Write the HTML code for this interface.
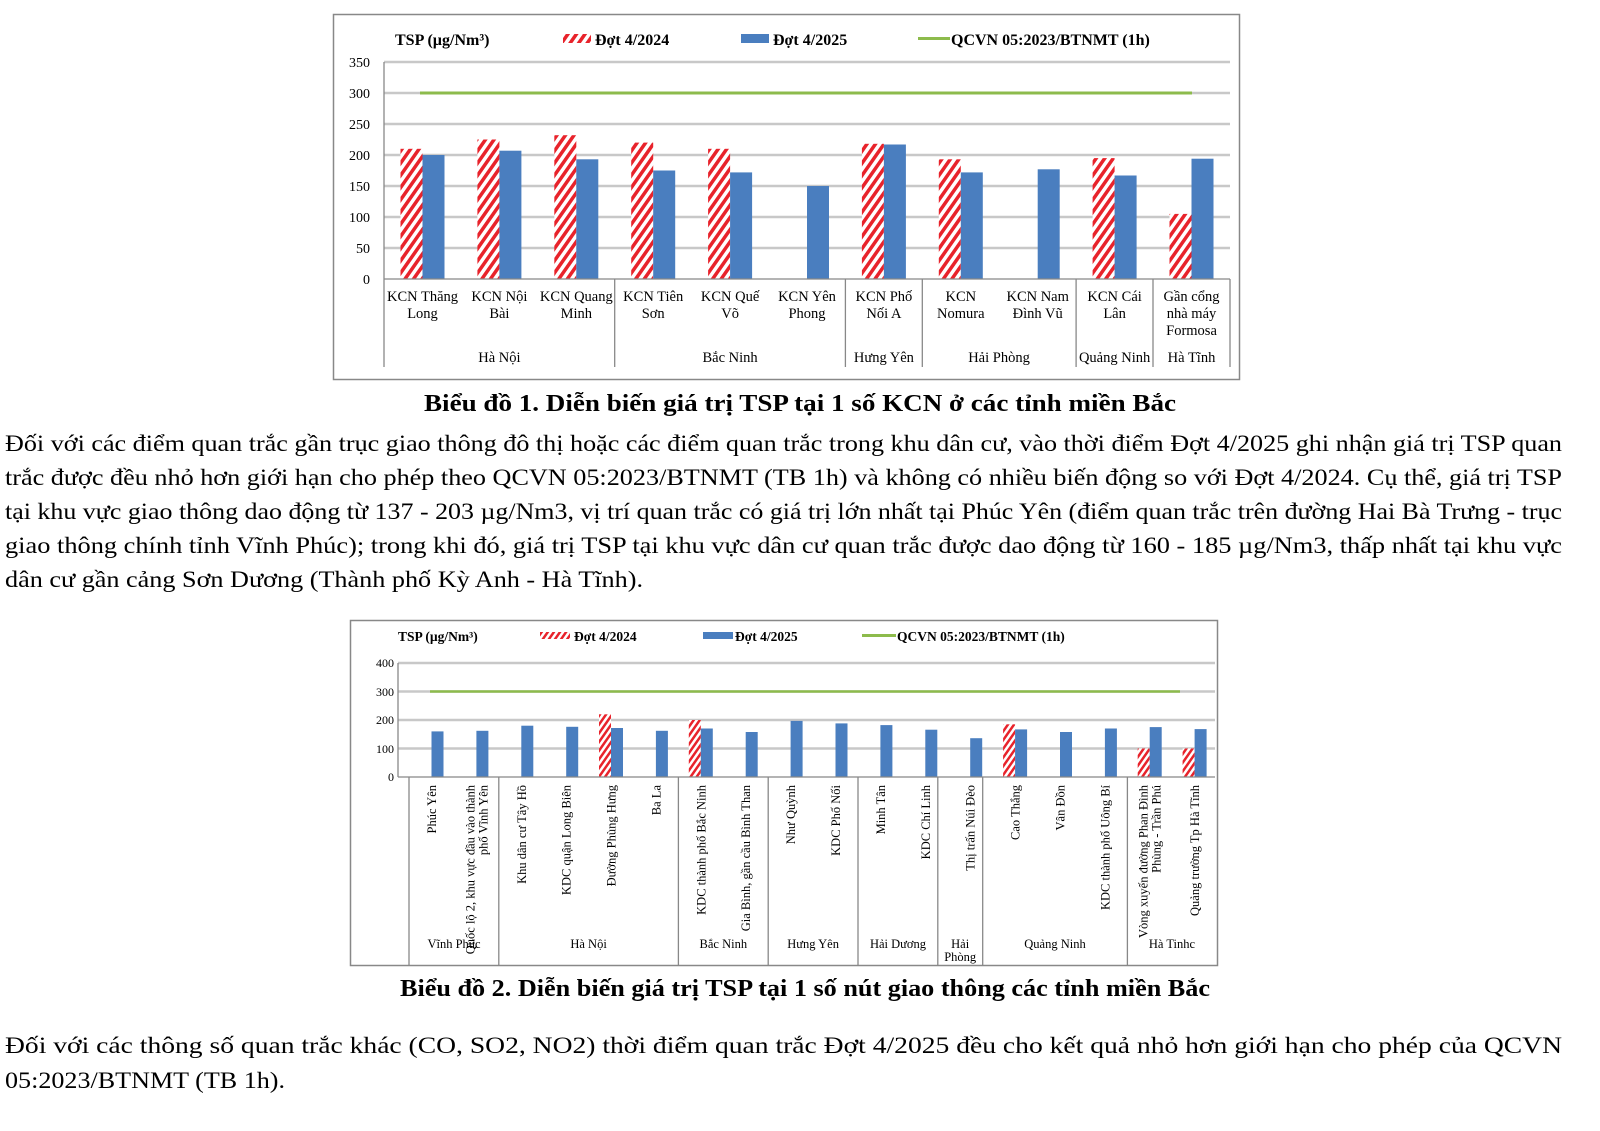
<!DOCTYPE html>
<html><head><meta charset="utf-8"><style>
html,body{margin:0;padding:0;background:#fff;width:1600px;height:1131px;overflow:hidden;position:relative}
svg{position:absolute;left:0;top:0}
</style></head><body>
<svg width="1600" height="1131" xmlns="http://www.w3.org/2000/svg" font-family="Liberation Serif, serif">
<defs>
<pattern id="h" patternUnits="userSpaceOnUse" width="7" height="7" patternTransform="rotate(35)">
<rect width="7" height="7" fill="#fff"/><rect width="3.5" height="7" fill="#e8232b"/></pattern>
<pattern id="h2" patternUnits="userSpaceOnUse" width="5" height="5" patternTransform="rotate(35)">
<rect width="5" height="5" fill="#fff"/><rect width="2.5" height="5" fill="#e8232b"/></pattern>
</defs>
<!-- CHART 1 -->
<rect x="333.5" y="14.5" width="906" height="365" fill="#fff" stroke="#888" stroke-width="1.5"/>
<g stroke="#c8c8c8" stroke-width="2.5">
<line x1="384" y1="62" x2="1230" y2="62"/><line x1="384" y1="93" x2="1230" y2="93"/>
<line x1="384" y1="124" x2="1230" y2="124"/><line x1="384" y1="155" x2="1230" y2="155"/>
<line x1="384" y1="186" x2="1230" y2="186"/><line x1="384" y1="217" x2="1230" y2="217"/>
<line x1="384" y1="248" x2="1230" y2="248"/></g>
<g font-size="14" text-anchor="end"><text x="370" y="67">350</text><text x="370" y="98">300</text><text x="370" y="129">250</text><text x="370" y="160">200</text><text x="370" y="191">150</text><text x="370" y="222">100</text><text x="370" y="253">50</text><text x="370" y="284">0</text></g>
<g fill="url(#h)">
<rect x="400.5" y="148.8" width="22" height="130.2"/><rect x="477.4" y="139.5" width="22" height="139.5"/>
<rect x="554.3" y="135.2" width="22" height="143.8"/><rect x="631.2" y="142.6" width="22" height="136.4"/>
<rect x="708.1" y="148.8" width="22" height="130.2"/><rect x="861.9" y="143.8" width="22" height="135.2"/>
<rect x="938.8" y="159.3" width="22" height="119.7"/><rect x="1092.6" y="158.1" width="22" height="120.9"/>
<rect x="1169.5" y="213.9" width="22" height="65.1"/></g>
<g fill="#4a7ebf">
<rect x="422.5" y="155" width="22" height="124"/><rect x="499.4" y="150.7" width="22" height="128.3"/>
<rect x="576.3" y="159.3" width="22" height="119.7"/><rect x="653.2" y="170.5" width="22" height="108.5"/>
<rect x="730.1" y="172.4" width="22" height="106.6"/><rect x="807" y="186" width="22" height="93"/>
<rect x="883.9" y="144.5" width="22" height="134.5"/><rect x="960.8" y="172.4" width="22" height="106.6"/>
<rect x="1037.7" y="169.3" width="22" height="109.7"/><rect x="1114.6" y="175.5" width="22" height="103.5"/>
<rect x="1191.5" y="158.7" width="22" height="120.3"/></g>
<line x1="420" y1="93" x2="1192" y2="93" stroke="#8dbb4c" stroke-width="3"/>
<g stroke="#888" stroke-width="1.3">
<line x1="384" y1="62" x2="384" y2="367"/><line x1="384" y1="279" x2="1230" y2="279"/>
<line x1="614.7" y1="279" x2="614.7" y2="367"/><line x1="845.4" y1="279" x2="845.4" y2="367"/>
<line x1="922.3" y1="279" x2="922.3" y2="367"/><line x1="1076.1" y1="279" x2="1076.1" y2="367"/>
<line x1="1153" y1="279" x2="1153" y2="367"/><line x1="1230" y1="279" x2="1230" y2="367"/></g>
<g font-size="14.5" text-anchor="middle">
<text x="422.5" y="301">KCN Thăng</text><text x="422.5" y="318">Long</text>
<text x="499.4" y="301">KCN Nội</text><text x="499.4" y="318">Bài</text>
<text x="576.3" y="301">KCN Quang</text><text x="576.3" y="318">Minh</text>
<text x="653.2" y="301">KCN Tiên</text><text x="653.2" y="318">Sơn</text>
<text x="730.1" y="301">KCN Quế</text><text x="730.1" y="318">Võ</text>
<text x="807" y="301">KCN Yên</text><text x="807" y="318">Phong</text>
<text x="883.9" y="301">KCN Phố</text><text x="883.9" y="318">Nối A</text>
<text x="960.8" y="301">KCN</text><text x="960.8" y="318">Nomura</text>
<text x="1037.7" y="301">KCN Nam</text><text x="1037.7" y="318">Đình Vũ</text>
<text x="1114.6" y="301">KCN Cái</text><text x="1114.6" y="318">Lân</text>
<text x="1191.5" y="301">Gần cổng</text><text x="1191.5" y="318">nhà máy</text><text x="1191.5" y="335">Formosa</text>
<text x="499.4" y="362">Hà Nội</text><text x="730.1" y="362">Bắc Ninh</text><text x="883.9" y="362">Hưng Yên</text>
<text x="999" y="362">Hải Phòng</text><text x="1114.6" y="362">Quảng Ninh</text><text x="1191.5" y="362">Hà Tĩnh</text></g>
<g font-size="16" font-weight="bold">
<text x="395" y="45">TSP (µg/Nm³)</text>
<rect x="563" y="34" width="28" height="9" fill="url(#h)"/><text x="595" y="45">Đợt 4/2024</text>
<rect x="741" y="34" width="28" height="9" fill="#4a7ebf"/><text x="773" y="45">Đợt 4/2025</text>
<rect x="918" y="37" width="32" height="3" fill="#8dbb4c"/><text x="951" y="45">QCVN 05:2023/BTNMT (1h)</text></g>
<text x="800" y="411" font-size="24" font-weight="bold" text-anchor="middle" textLength="752" lengthAdjust="spacingAndGlyphs">Biểu đồ 1. Diễn biến giá trị TSP tại 1 số KCN ở các tỉnh miền Bắc</text>

<!-- PARAGRAPH 1 -->
<g font-size="23">
<text x="5" y="451" textLength="1557" lengthAdjust="spacingAndGlyphs">Đối với các điểm quan trắc gần trục giao thông đô thị hoặc các điểm quan trắc trong khu dân cư, vào thời điểm Đợt 4/2025 ghi nhận giá trị TSP quan</text>
<text x="5" y="485" textLength="1557" lengthAdjust="spacingAndGlyphs">trắc được đều nhỏ hơn giới hạn cho phép theo QCVN 05:2023/BTNMT (TB 1h) và không có nhiều biến động so với Đợt 4/2024. Cụ thể, giá trị TSP</text>
<text x="5" y="519" textLength="1557" lengthAdjust="spacingAndGlyphs">tại khu vực giao thông dao động từ 137 - 203 µg/Nm3, vị trí quan trắc có giá trị lớn nhất tại Phúc Yên (điểm quan trắc trên đường Hai Bà Trưng - trục</text>
<text x="5" y="553" textLength="1557" lengthAdjust="spacingAndGlyphs">giao thông chính tỉnh Vĩnh Phúc); trong khi đó, giá trị TSP tại khu vực dân cư quan trắc được dao động từ 160 - 185 µg/Nm3, thấp nhất tại khu vực</text>
<text x="5" y="587" textLength="638" lengthAdjust="spacingAndGlyphs">dân cư gần cảng Sơn Dương (Thành phố Kỳ Anh - Hà Tĩnh).</text>
<text x="5" y="1053" textLength="1557" lengthAdjust="spacingAndGlyphs">Đối với các thông số quan trắc khác (CO, SO2, NO2) thời điểm quan trắc Đợt 4/2025 đều cho kết quả nhỏ hơn giới hạn cho phép của QCVN</text>
<text x="5" y="1088" textLength="280" lengthAdjust="spacingAndGlyphs">05:2023/BTNMT (TB 1h).</text>
</g>

<!-- CHART 2 -->
<rect x="350.5" y="620.5" width="867" height="345" fill="#fff" stroke="#888" stroke-width="1.5"/>
<g stroke="#c8c8c8" stroke-width="2.5">
<line x1="398" y1="663" x2="1215" y2="663"/><line x1="398" y1="691.5" x2="1215" y2="691.5"/>
<line x1="398" y1="720" x2="1215" y2="720"/><line x1="398" y1="748.5" x2="1215" y2="748.5"/></g>
<g font-size="12" text-anchor="end"><text x="394" y="667">400</text><text x="394" y="696">300</text><text x="394" y="724">200</text><text x="394" y="753">100</text><text x="394" y="781">0</text></g>
<g fill="url(#h2)">
<rect x="599" y="714.3" width="12" height="62.7"/><rect x="688.8" y="720" width="12" height="57"/>
<rect x="1003.1" y="724.3" width="12" height="52.7"/><rect x="1137.7" y="748.5" width="12" height="28.5"/>
<rect x="1182.6" y="748.5" width="12" height="28.5"/></g>
<g fill="#4a7ebf">
<rect x="431.5" y="731.4" width="12" height="45.6"/><rect x="476.4" y="730.8" width="12" height="46.2"/>
<rect x="521.3" y="725.7" width="12" height="51.3"/><rect x="566.2" y="726.8" width="12" height="50.2"/>
<rect x="611" y="728" width="12" height="49"/><rect x="655.9" y="730.8" width="12" height="46.2"/>
<rect x="700.8" y="728.5" width="12" height="48.5"/><rect x="745.7" y="732" width="12" height="45"/>
<rect x="790.6" y="720.9" width="12" height="56.1"/><rect x="835.5" y="723.4" width="12" height="53.6"/>
<rect x="880.4" y="725.1" width="12" height="51.9"/><rect x="925.3" y="729.7" width="12" height="47.3"/>
<rect x="970.2" y="738.2" width="12" height="38.8"/><rect x="1015.1" y="729.4" width="12" height="47.6"/>
<rect x="1060" y="732" width="12" height="45"/><rect x="1104.9" y="728.5" width="12" height="48.5"/>
<rect x="1149.7" y="727.1" width="12" height="49.9"/><rect x="1194.6" y="729.1" width="12" height="47.9"/></g>
<line x1="430" y1="691.5" x2="1180" y2="691.5" stroke="#8dbb4c" stroke-width="2.5"/>
<g stroke="#888" stroke-width="1.3">
<line x1="398" y1="663" x2="398" y2="777"/><line x1="398" y1="777" x2="1215" y2="777"/>
<line x1="409" y1="777" x2="409" y2="965"/><line x1="498.8" y1="777" x2="498.8" y2="965"/>
<line x1="678.4" y1="777" x2="678.4" y2="965"/><line x1="768.2" y1="777" x2="768.2" y2="965"/>
<line x1="858" y1="777" x2="858" y2="965"/><line x1="937.8" y1="777" x2="937.8" y2="965"/>
<line x1="982.7" y1="777" x2="982.7" y2="965"/><line x1="1127.4" y1="777" x2="1127.4" y2="965"/></g>
<g font-size="12.5" text-anchor="end">
<text transform="translate(436,785) rotate(-90)">Phúc Yên</text>
<text transform="translate(474.4,785) rotate(-90)">Quốc lộ 2, khu vực đầu vào thành</text>
<text transform="translate(487.4,785) rotate(-90)">phố Vĩnh Yên</text>
<text transform="translate(525.8,785) rotate(-90)">Khu dân cư Tây Hồ</text>
<text transform="translate(570.7,785) rotate(-90)">KDC quận Long Biên</text>
<text transform="translate(615.5,785) rotate(-90)">Đường Phùng Hưng</text>
<text transform="translate(660.4,785) rotate(-90)">Ba La</text>
<text transform="translate(705.3,785) rotate(-90)">KDC thành phố Bắc Ninh</text>
<text transform="translate(750.2,785) rotate(-90)">Gia Bình, gần cầu Bình Than</text>
<text transform="translate(795.1,785) rotate(-90)">Như Quỳnh</text>
<text transform="translate(840,785) rotate(-90)">KDC Phố Nối</text>
<text transform="translate(884.9,785) rotate(-90)">Minh Tân</text>
<text transform="translate(929.8,785) rotate(-90)">KDC Chí Linh</text>
<text transform="translate(974.7,785) rotate(-90)">Thị trấn Núi Đèo</text>
<text transform="translate(1019.6,785) rotate(-90)">Cao Thắng</text>
<text transform="translate(1064.5,785) rotate(-90)">Vân Đồn</text>
<text transform="translate(1109.4,785) rotate(-90)">KDC thành phố Uông Bí</text>
<text transform="translate(1147.7,785) rotate(-90)">Vòng xuyến đường Phan Đình</text>
<text transform="translate(1160.7,785) rotate(-90)">Phùng - Trần Phú</text>
<text transform="translate(1199.1,785) rotate(-90)">Quảng trường Tp Hà Tĩnh</text></g>
<g font-size="12.5" text-anchor="middle">
<text x="454" y="948">Vĩnh Phúc</text><text x="588.6" y="948">Hà Nội</text><text x="723.3" y="948">Bắc Ninh</text>
<text x="813.1" y="948">Hưng Yên</text><text x="898" y="948">Hải Dương</text><text x="960.2" y="948">Hải</text><text x="960.2" y="961">Phòng</text>
<text x="1055" y="948">Quảng Ninh</text><text x="1172" y="948">Hà Tinhc</text></g>
<g font-size="13.5" font-weight="bold">
<text x="398" y="641">TSP (µg/Nm³)</text>
<rect x="540" y="632" width="30" height="7" fill="url(#h2)"/><text x="574" y="641">Đợt 4/2024</text>
<rect x="703" y="632" width="30" height="7" fill="#4a7ebf"/><text x="735" y="641">Đợt 4/2025</text>
<rect x="862" y="634" width="34" height="3" fill="#8dbb4c"/><text x="897" y="641">QCVN 05:2023/BTNMT (1h)</text></g>
<text x="805" y="996" font-size="24" font-weight="bold" text-anchor="middle" textLength="810" lengthAdjust="spacingAndGlyphs">Biểu đồ 2. Diễn biến giá trị TSP tại 1 số nút giao thông các tỉnh miền Bắc</text>
</svg>
</body></html>
